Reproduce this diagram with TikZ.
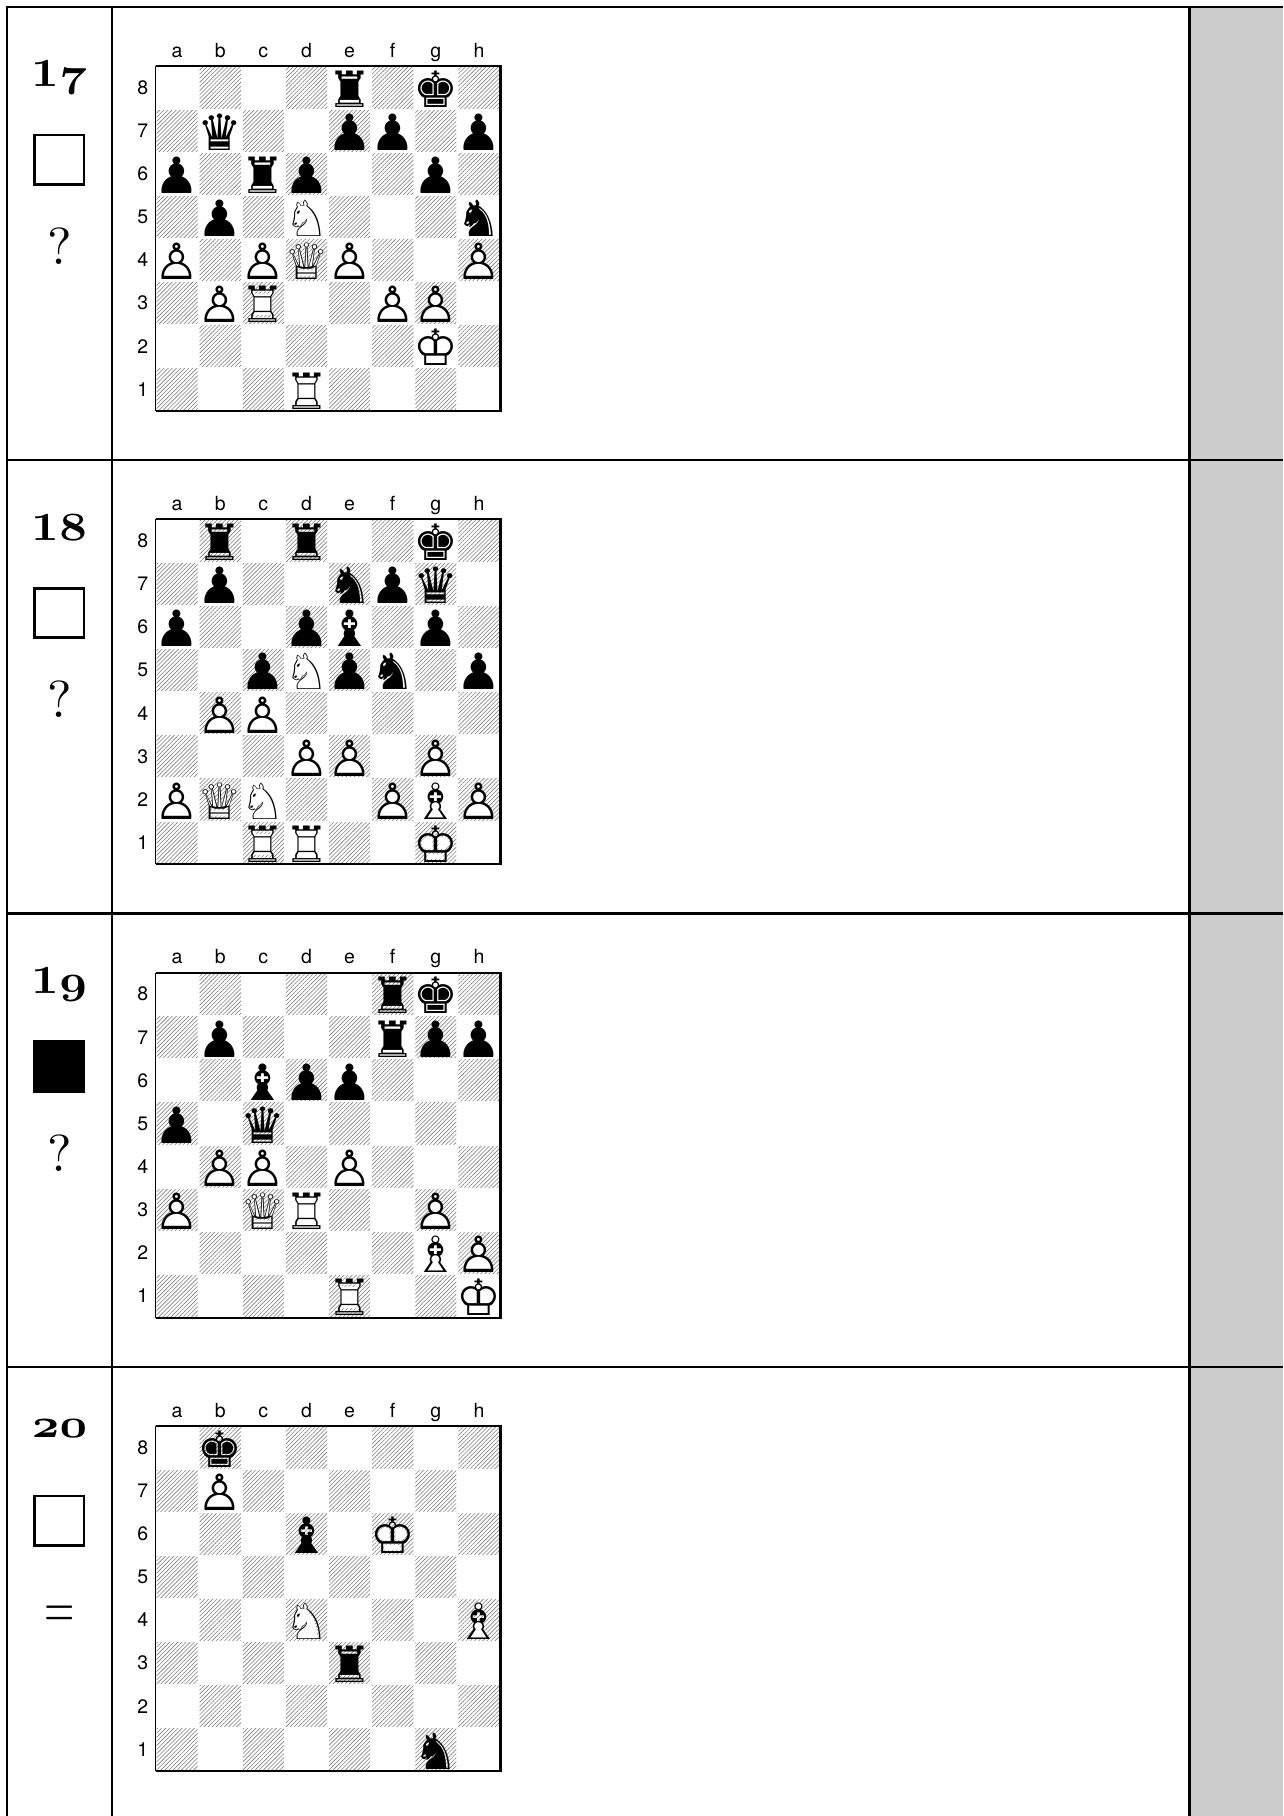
\RequirePackage{fix-cm}
\documentclass[tikz,border=0pt]{standalone}
\usepackage{fontspec}
\usepackage{graphicx}
\usetikzlibrary{patterns.meta}
\newfontfamily\chessfont{DejaVu Sans}
\newfontfamily\coordfont{TeX Gyre Heros}
\newfontfamily\lmten{lmroman10-regular.otf}
\newfontfamily\lmtenbf{lmroman10-bold.otf}
\newcommand\osnum[1]{{\usefont{OML}{cmm}{b}{it}#1}}
\expandafter\def\csname chOK\endcsname{♔}
\expandafter\def\csname chOQ\endcsname{♕}
\expandafter\def\csname chOR\endcsname{♖}
\expandafter\def\csname chOB\endcsname{♗}
\expandafter\def\csname chON\endcsname{♘}
\expandafter\def\csname chOP\endcsname{♙}
\expandafter\def\csname chFK\endcsname{♚}
\expandafter\def\csname chFQ\endcsname{♛}
\expandafter\def\csname chFR\endcsname{♜}
\expandafter\def\csname chFB\endcsname{♝}
\expandafter\def\csname chFN\endcsname{♞}
\expandafter\def\csname chFP\endcsname{♟}
\tikzset{
  rule/.style={line width=2.4pt},
  shadecol/.style={fill=black!20},
  dark/.style={pattern={Lines[angle=45,distance=2.9pt,line width=0.6pt]},pattern color=black!50},
  pc/.style={inner sep=0pt,font=\chessfont\fontsize{50}{50}\selectfont},
  crd/.style={inner sep=0pt,font=\coordfont\fontsize{19.5}{19.5}\selectfont},
  numtxt/.style={inner sep=0pt,anchor=base,font=\lmtenbf\fontsize{40}{40}\selectfont},
  qtxt/.style={inner sep=0pt,anchor=base,font=\lmten\fontsize{52}{52}\selectfont},
  tomove/.style={line width=2.7pt}
}
\newcommand\wpc[3]{%
  \node[pc,text=white] at ({155.5+43.125*(#2-0.5)},{60.7+43.125*(8.5-#3)}) {\csname chF#1\endcsname};
  \node[pc] (w#1#2#3) at ({155.5+43.125*(#2-0.5)},{60.7+43.125*(8.5-#3)}) {\csname chO#1\endcsname};}
\newcommand\bpc[3]{%
  \node[pc] (b#1#2#3) at ({155.5+43.125*(#2-0.5)},{60.7+43.125*(8.5-#3)}) {\csname chF#1\endcsname};}
\newcommand\boardframe[1]{%
  \foreach \f in {1,...,8}{\foreach \r in {1,...,8}{%
    \pgfmathtruncatemacro\pty{mod(\f+\r,2)}%
    \ifnum\pty=0
      \path[dark] ({155.5+43.125*(\f-1)+1},{59.2+43.125*(8-\r)+1}) rectangle ++(41.125,41.125);
    \fi}}
  \foreach \l [count=\i] in {a,b,c,d,e,f,g,h}
    \node[crd,anchor=base] (#1-\l) at ({155.5+43.125*(\i-0.5)},50.5) {\l};
  \foreach \r in {1,...,8}
    \node[crd] (#1-\r) at (142.7,{59.2+43.125*(8.5-\r)}) {\r};
  \draw[line width=2.2pt] (155.5,59.2) -- (500.5,59.2) -- (500.5,404.2) -- (155.5,404.2);
  \draw[line width=1.2pt] (155.5,59.2) -- (155.5,404.2);
}
\begin{document}
\begin{tikzpicture}[x=1pt,y=-1pt]
\useasboundingbox (0,0) rectangle (1283,1816);
\fill[white] (0,0) rectangle (1283,1816);
\fill[shadecol] (1189.3,6.7) rectangle (1283,1816);
% table rules
\draw[rule] (7,1816) -- (7,6.7) -- (1283,6.7);
\draw[rule] (111.7,6.7) -- (111.7,1816);
\draw[rule] (1189.3,6.7) -- (1189.3,1816);
\draw[rule] (7,460.0) -- (1283,460.0);
\draw[rule] (7,913.4) -- (1283,913.4);
\draw[rule] (7,1366.7) -- (1283,1366.7);

% ---------- 17 ----------
\begin{scope}[shift={(0,6.7)}]
\node[numtxt] (n17) at (59.5,80) {\scalebox{1.2}[1]{1\osnum{7}}};
\draw[tomove] (34.7,128.3) rectangle (84,177.7);
\node[qtxt] (q17) at (59.5,257.5) {?};
\boardframe{b17}
\bpc{R}{5}{8} \bpc{K}{7}{8}
\bpc{Q}{2}{7} \bpc{P}{5}{7} \bpc{P}{6}{7} \bpc{P}{8}{7}
\bpc{P}{1}{6} \bpc{R}{3}{6} \bpc{P}{4}{6} \bpc{P}{7}{6}
\bpc{P}{2}{5} \wpc{N}{4}{5} \bpc{N}{8}{5}
\wpc{P}{1}{4} \wpc{P}{3}{4} \wpc{Q}{4}{4} \wpc{P}{5}{4} \wpc{P}{8}{4}
\wpc{P}{2}{3} \wpc{R}{3}{3} \wpc{P}{6}{3} \wpc{P}{7}{3}
\wpc{K}{7}{2}
\wpc{R}{4}{1}
\end{scope}

% ---------- 18 ----------
\begin{scope}[shift={(0,460.0)}]
\node[numtxt] (n18) at (59.5,80) {\scalebox{1.2}[1]{1\osnum{8}}};
\draw[tomove] (34.7,128.3) rectangle (84,177.7);
\node[qtxt] (q18) at (59.5,257.5) {?};
\boardframe{b18}
\bpc{R}{2}{8} \bpc{R}{4}{8} \bpc{K}{7}{8}
\bpc{P}{2}{7} \bpc{N}{5}{7} \bpc{P}{6}{7} \bpc{Q}{7}{7}
\bpc{P}{1}{6} \bpc{P}{4}{6} \bpc{B}{5}{6} \bpc{P}{7}{6}
\bpc{P}{3}{5} \wpc{N}{4}{5} \bpc{P}{5}{5} \bpc{N}{6}{5} \bpc{P}{8}{5}
\wpc{P}{2}{4} \wpc{P}{3}{4}
\wpc{P}{4}{3} \wpc{P}{5}{3} \wpc{P}{7}{3}
\wpc{P}{1}{2} \wpc{Q}{2}{2} \wpc{N}{3}{2} \wpc{P}{6}{2} \wpc{B}{7}{2} \wpc{P}{8}{2}
\wpc{R}{3}{1} \wpc{R}{4}{1} \wpc{K}{7}{1}
\end{scope}

% ---------- 19 ----------
\begin{scope}[shift={(0,913.4)}]
\node[numtxt] (n19) at (59.5,80) {\scalebox{1.2}[1]{1\osnum{9}}};
\fill (33.3,127) rectangle (85.3,179.5);
\node[qtxt] (q19) at (59.5,258.5) {?};
\boardframe{b19}
\bpc{R}{6}{8} \bpc{K}{7}{8}
\bpc{P}{2}{7} \bpc{R}{6}{7} \bpc{P}{7}{7} \bpc{P}{8}{7}
\bpc{B}{3}{6} \bpc{P}{4}{6} \bpc{P}{5}{6}
\bpc{P}{1}{5} \bpc{Q}{3}{5}
\wpc{P}{2}{4} \wpc{P}{3}{4} \wpc{P}{5}{4}
\wpc{P}{1}{3} \wpc{Q}{3}{3} \wpc{R}{4}{3} \wpc{P}{7}{3}
\wpc{B}{7}{2} \wpc{P}{8}{2}
\wpc{R}{5}{1} \wpc{K}{8}{1}
\end{scope}

% ---------- 20 ----------
\begin{scope}[shift={(0,1366.7)}]
\node[numtxt] (n20) at (59.5,71) {\scalebox{1.2}[1]{\osnum{20}}};
\draw[tomove] (34.7,129.3) rectangle (84,178.7);
\node[inner sep=0pt,anchor=base,font=\lmten\fontsize{39}{39}\selectfont] (eq20) at (59.5,260.4) {\scalebox{1}[1.5]{=}};
\boardframe{b20}
\bpc{K}{2}{8}
\wpc{P}{2}{7}
\bpc{B}{4}{6} \wpc{K}{6}{6}
\wpc{N}{4}{4} \wpc{B}{8}{4}
\bpc{R}{5}{3}
\bpc{N}{7}{1}
\end{scope}
\end{tikzpicture}
\end{document}
